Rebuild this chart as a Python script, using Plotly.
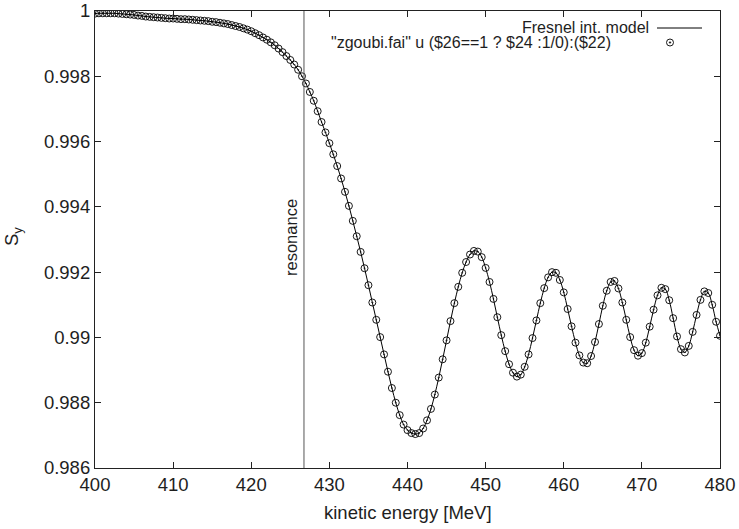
import plotly.graph_objects as go

# kinetic energy [MeV]
energy = [
    400.0, 400.5, 401.0, 401.5, 402.0, 402.5, 403.0, 403.5, 404.0, 404.5,
    405.0, 405.5, 406.0, 406.5, 407.0, 407.5, 408.0, 408.5, 409.0, 409.5,
    410.0, 410.5, 411.0, 411.5, 412.0, 412.5, 413.0, 413.5, 414.0, 414.5,
    415.0, 415.5, 416.0, 416.5, 417.0, 417.5, 418.0, 418.5, 419.0, 419.5,
    420.0, 420.5, 421.0, 421.5, 422.0, 422.5, 423.0, 423.5, 424.0, 424.5,
    425.0, 425.5, 426.0, 426.5, 427.0, 427.5, 428.0, 428.5, 429.0, 429.5,
    430.0, 430.5, 431.0, 431.5, 432.0, 432.5, 433.0, 433.5, 434.0, 434.5,
    435.0, 435.5, 436.0, 436.5, 437.0, 437.5, 438.0, 438.5, 439.0, 439.5,
    440.0, 440.5, 441.0, 441.5, 442.0, 442.5, 443.0, 443.5, 444.0, 444.5,
    445.0, 445.5, 446.0, 446.5, 447.0, 447.5, 448.0, 448.5, 449.0, 449.5,
    450.0, 450.5, 451.0, 451.5, 452.0, 452.5, 453.0, 453.5, 454.0, 454.5,
    455.0, 455.5, 456.0, 456.5, 457.0, 457.5, 458.0, 458.5, 459.0, 459.5,
    460.0, 460.5, 461.0, 461.5, 462.0, 462.5, 463.0, 463.5, 464.0, 464.5,
    465.0, 465.5, 466.0, 466.5, 467.0, 467.5, 468.0, 468.5, 469.0, 469.5,
    470.0, 470.5, 471.0, 471.5, 472.0, 472.5, 473.0, 473.5, 474.0, 474.5,
    475.0, 475.5, 476.0, 476.5, 477.0, 477.5, 478.0, 478.5, 479.0, 479.5,
    480.0,
]

# vertical spin component S_y
sy = [
    0.99992, 0.99993, 0.99993, 0.99993, 0.99993, 0.99993, 0.99992, 0.99991, 0.99990, 0.99989,
    0.99988, 0.99986, 0.99985, 0.99983, 0.99982, 0.99981, 0.99980, 0.99979, 0.99978, 0.99977,
    0.99977, 0.99976, 0.99975, 0.99975, 0.99974, 0.99973, 0.99972, 0.99971, 0.99970, 0.99969,
    0.99967, 0.99966, 0.99964, 0.99962, 0.99960, 0.99957, 0.99954, 0.99951, 0.99947, 0.99943,
    0.99938, 0.99932, 0.99926, 0.99919, 0.99912, 0.99904, 0.99895, 0.99885, 0.99874, 0.99862,
    0.99850, 0.99836, 0.99820, 0.99800, 0.99778, 0.99752, 0.99725, 0.99693, 0.99660, 0.99628,
    0.99595, 0.99561, 0.99525, 0.99487, 0.99446, 0.99403, 0.99357, 0.99310, 0.99262, 0.99212,
    0.99160, 0.99107, 0.99054, 0.99001, 0.98948, 0.98895, 0.98845, 0.98800, 0.98762, 0.98733,
    0.98716, 0.98707, 0.98704, 0.98707, 0.98721, 0.98746, 0.98781, 0.98825, 0.98877, 0.98933,
    0.98991, 0.99050, 0.99105, 0.99155, 0.99198, 0.99231, 0.99254, 0.99265, 0.99263, 0.99246,
    0.99213, 0.99170, 0.99118, 0.99062, 0.99007, 0.98958, 0.98918, 0.98892, 0.98880, 0.98886,
    0.98910, 0.98948, 0.98998, 0.99052, 0.99105, 0.99151, 0.99184, 0.99200, 0.99198, 0.99176,
    0.99138, 0.99087, 0.99034, 0.98984, 0.98945, 0.98923, 0.98921, 0.98943, 0.98986, 0.99041,
    0.99097, 0.99143, 0.99170, 0.99173, 0.99150, 0.99107, 0.99054, 0.99001, 0.98961, 0.98944,
    0.98952, 0.98984, 0.99033, 0.99085, 0.99129, 0.99152, 0.99148, 0.99114, 0.99059, 0.99003,
    0.98964, 0.98954, 0.98974, 0.99017, 0.99069, 0.99115, 0.99141, 0.99136, 0.99100, 0.99048,
    0.99005,
]

resonance_energy = 426.75

x_ticks = [400, 410, 420, 430, 440, 450, 460, 470, 480]
x_ticktext = ["400", "410", "420", "430", "440", "450", "460", "470", "480"]
y_ticks = [0.986, 0.988, 0.99, 0.992, 0.994, 0.996, 0.998, 1.0]
y_ticktext = ["0.986", "0.988", "0.99", "0.992", "0.994", "0.996", "0.998", "1"]

legend_model = "Fresnel int. model"
legend_data = '"zgoubi.fai" u ($26==1 ? $24 :1/0):($22)'

FONT = "Liberation Sans, Arial, Helvetica, sans-serif"
TXT = "#1e1e1e"

fig = go.Figure()
fig.add_trace(go.Scatter(
    x=energy, y=sy, mode="lines",
    line=dict(color="black", width=1, shape="spline"),
    showlegend=False, hoverinfo="skip",
))
fig.add_trace(go.Scatter(
    x=energy, y=sy, mode="markers",
    marker=dict(symbol="circle-open-dot", size=7, color="black", line=dict(width=0.9)),
    showlegend=False,
))

fig.add_shape(type="line", xref="x", yref="paper", x0=resonance_energy, x1=resonance_energy,
              y0=0, y1=1, line=dict(color="#555555", width=1))

# legend (gnuplot style: text then sample)
W, H, L, T = 625.0, 457.0, 95.0, 11.0
def px(xp):
    return (xp - L) / W
def py(yp):
    return (T + H - yp) / H

fig.add_shape(type="line", xref="paper", yref="paper", x0=px(657), x1=px(702),
              y0=py(28), y1=py(28), line=dict(color="black", width=1))
fig.add_shape(type="circle", xref="paper", yref="paper", xsizemode="pixel", ysizemode="pixel",
              xanchor=px(670), yanchor=py(42.5), x0=-3.5, x1=3.5, y0=-3.5, y1=3.5,
              line=dict(color="black", width=0.9))
fig.add_shape(type="circle", xref="paper", yref="paper", xsizemode="pixel", ysizemode="pixel",
              xanchor=px(670), yanchor=py(42.5), x0=-0.8, x1=0.8, y0=-0.8, y1=0.8,
              line=dict(color="black", width=0.5), fillcolor="black")

fig.add_annotation(text=legend_model, xref="paper", yref="paper", x=px(651), y=py(28),
                   xanchor="right", yanchor="middle", showarrow=False,
                   font=dict(family=FONT, size=16, color=TXT))
fig.add_annotation(text=legend_data, xref="paper", yref="paper", x=px(613), y=py(42.5),
                   xanchor="right", yanchor="middle", showarrow=False,
                   font=dict(family=FONT, size=16, color=TXT))

fig.add_annotation(text="resonance", xref="paper", yref="paper", x=px(291), y=py(238),
                   xanchor="center", yanchor="middle", textangle=-90, showarrow=False,
                   font=dict(family=FONT, size=16.5, color=TXT))
fig.add_annotation(text="kinetic energy [MeV]", xref="paper", yref="paper", x=0.5, y=py(512),
                   xanchor="center", yanchor="middle", showarrow=False,
                   font=dict(family=FONT, size=18.5, color=TXT))
fig.add_annotation(text="S<sub>y</sub>", xref="paper", yref="paper", x=px(13), y=py(237),
                   xanchor="center", yanchor="middle", textangle=-90, showarrow=False,
                   font=dict(family=FONT, size=18.5, color=TXT))

axis_common = dict(showgrid=False, zeroline=False, showline=True, linecolor="#222222",
                   linewidth=1.2, mirror="ticks", ticks="inside", ticklen=6,
                   tickcolor="#222222", tickwidth=1, automargin=False,
                   tickfont=dict(family=FONT, size=18.5, color=TXT))

fig.update_xaxes(range=[400, 480], tickvals=x_ticks, ticktext=x_ticktext, **axis_common)
fig.update_yaxes(range=[0.986, 1.0], tickvals=y_ticks, ticktext=y_ticktext, **axis_common)

fig.update_layout(
    width=739, height=529,
    margin=dict(l=95, r=19, t=11, b=61, autoexpand=False),
    plot_bgcolor="white", paper_bgcolor="white",
    showlegend=False,
)

fig.write_html(
    "out.html",
    config={"displayModeBar": False},
    post_script="document.body.style.margin='0';document.body.style.overflow='hidden';",
)
